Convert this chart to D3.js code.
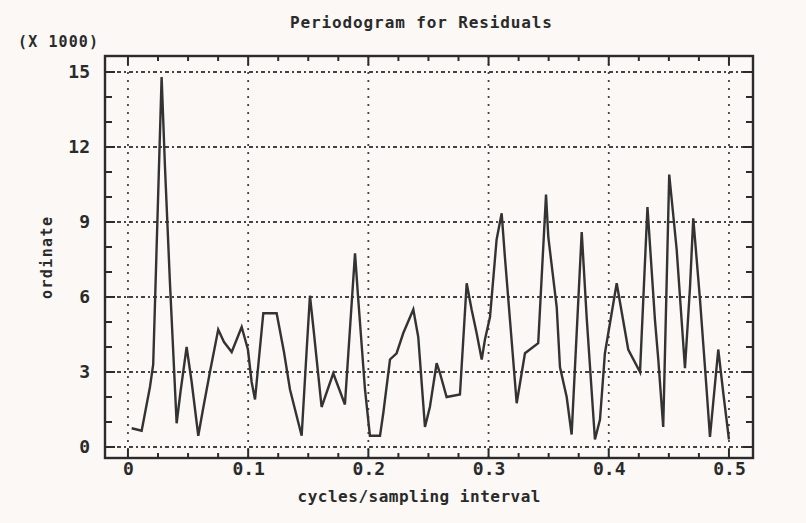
<!DOCTYPE html>
<html><head><meta charset="utf-8">
<script src="https://cdn.jsdelivr.net/npm/d3@7"></script>
<style>
html,body{margin:0;padding:0;background:#fbf8f5;}
svg{display:block;}
text{font-family:"DejaVu Sans Mono","Liberation Mono",monospace;fill:#2a2a2a;}
</style></head>
<body>
<svg id="c" width="806" height="523"></svg>
<script>
// ---- data ----
const frequency = [0.0031,0.0114,0.0183,0.0210,0.0280,0.0308,0.0349,0.0405,0.0437,0.0488,
  0.0530,0.0585,0.0624,0.0682,0.0751,0.0799,0.0863,0.0946,0.0998,0.1029,
  0.1057,0.1126,0.1237,0.1298,0.1348,0.1445,0.1487,0.1514,0.1542,0.1611,
  0.1708,0.1805,0.1889,0.1916,0.1958,0.1972,0.2013,0.2097,0.2124,0.2180,
  0.2235,0.2290,0.2374,0.2415,0.2471,0.2512,0.2568,0.2596,0.2651,0.2762,
  0.2818,0.2859,0.2901,0.2943,0.2970,0.3012,0.3067,0.3109,0.3136,0.3234,
  0.3303,0.3413,0.3478,0.3497,0.3567,0.3594,0.3650,0.3691,0.3775,0.3816,
  0.3885,0.3927,0.3968,0.4066,0.4162,0.4260,0.4322,0.4384,0.4412,0.4453,
  0.4503,0.4565,0.4634,0.4676,0.4703,0.4759,0.4814,0.4842,0.4911,0.4953,0.5000];
const ordinate = [0.75,0.65,2.4,3.3,14.8,11.2,6.6,0.95,2.2,4.0,
  2.6,0.45,1.5,3.0,4.7,4.2,3.8,4.8,3.9,2.6,
  1.9,5.35,5.35,3.8,2.3,0.45,3.9,6.05,4.8,1.6,
  2.95,1.7,7.75,5.9,3.2,2.3,0.45,0.45,1.35,3.5,
  3.75,4.55,5.5,4.4,0.8,1.6,3.35,2.95,2.0,2.1,
  6.55,5.5,4.55,3.5,4.3,5.2,8.3,9.35,7.6,1.75,
  3.75,4.15,10.1,8.4,5.6,3.2,2.0,0.5,8.6,5.2,
  0.3,1.1,3.75,6.55,3.9,3.0,9.6,5.1,3.5,0.8,
  10.9,7.9,3.15,6.4,9.15,5.9,2.3,0.4,3.9,2.15,0.3];
const xTicks = [0,0.1,0.2,0.3,0.4,0.5];
const xTickLabels = ["0","0.1","0.2","0.3","0.4","0.5"];
const yTicks = [0,3,6,9,12,15];
const yTickLabels = ["0","3","6","9","12","15"];
const title = "Periodogram for Residuals";
const scaleNote = "(X 1000)";
const xLabel = "cycles/sampling interval";
const yLabel = "ordinate";

// ---- drawing ----
const svg = d3.select("#c");
const L=105, R=753, T=56, B=458;
const x = d3.scaleLinear().domain([-0.0191,0.52]).range([L,R]);
const y = d3.scaleLinear().domain([-0.44,15.64]).range([B,T]);
const ink = "#2b2b2b";

// grid
const g = svg.append("g");
g.selectAll(".hg").data(yTicks).join("line")
  .attr("x1",L).attr("x2",R).attr("y1",d=>y(d)).attr("y2",d=>y(d))
  .attr("stroke","#444").attr("stroke-width",1.8).attr("stroke-dasharray","4,3,2,3");
g.selectAll(".vg").data(xTicks).join("line")
  .attr("y1",T).attr("y2",B).attr("x1",d=>x(d)).attr("x2",d=>x(d))
  .attr("stroke","#444").attr("stroke-width",1.8).attr("stroke-dasharray","2,6");

// inward minor/major ticks on frame
const yMinor = d3.range(0,16,1);
g.selectAll(".yl").data(yMinor).join("line")
  .attr("x1",L).attr("x2",d=>L+(d%3===0?10:7)).attr("y1",d=>y(d)).attr("y2",d=>y(d))
  .attr("stroke",ink).attr("stroke-width",2);
g.selectAll(".yr").data(yMinor).join("line")
  .attr("x1",R).attr("x2",d=>R-(d%3===0?10:7)).attr("y1",d=>y(d)).attr("y2",d=>y(d))
  .attr("stroke",ink).attr("stroke-width",2);
const xMinor = d3.range(0,0.5001,0.025);
g.selectAll(".xb").data(xMinor).join("line")
  .attr("y1",B).attr("y2",(d,i)=>B-(i%4===0?9:5)).attr("x1",d=>x(d)).attr("x2",d=>x(d))
  .attr("stroke",ink).attr("stroke-width",2);
g.selectAll(".xt").data(xMinor).join("line")
  .attr("y1",T).attr("y2",(d,i)=>T+(i%4===0?9:5)).attr("x1",d=>x(d)).attr("x2",d=>x(d))
  .attr("stroke",ink).attr("stroke-width",2);

// frame
svg.append("rect").attr("x",L).attr("y",T).attr("width",R-L).attr("height",B-T)
  .attr("fill","none").attr("stroke",ink).attr("stroke-width",2.4);

// series line
const pts = frequency.map((f,i)=>[f,ordinate[i]]);
svg.append("path").datum(pts)
  .attr("d",d3.line().x(d=>x(d[0])).y(d=>y(d[1])))
  .attr("fill","none").attr("stroke","#333").attr("stroke-width",2.4).attr("stroke-linejoin","miter");

// axes labels (real axes for positions)
const ya = svg.append("g").attr("transform",`translate(${L},0)`)
  .call(d3.axisLeft(y).tickValues(yTicks).tickFormat((d,i)=>yTickLabels[i]).tickSize(0).tickPadding(15));
ya.select(".domain").remove();
ya.selectAll("text").attr("font-size",18).attr("font-weight","bold")
  .attr("font-family","DejaVu Sans Mono, monospace").attr("fill","#2a2a2a");

const xa = svg.append("g").attr("transform",`translate(0,${B})`)
  .call(d3.axisBottom(x).tickValues(xTicks).tickFormat((d,i)=>xTickLabels[i]).tickSize(0).tickPadding(4));
xa.select(".domain").remove();
xa.selectAll("text").attr("font-size",18).attr("font-weight","bold")
  .attr("font-family","DejaVu Sans Mono, monospace").attr("fill","#2a2a2a");

svg.append("text").attr("x",421).attr("y",28).attr("text-anchor","middle").attr("font-weight","bold")
  .attr("font-size",16).attr("textLength",262).text(title);
svg.append("text").attr("x",18).attr("y",47).attr("font-weight","bold")
  .attr("font-size",15).attr("textLength",80).text(scaleNote);
svg.append("text").attr("transform","translate(52,258) rotate(-90)").attr("text-anchor","middle")
  .attr("font-weight","bold").attr("font-size",15).attr("textLength",82).text(yLabel);
svg.append("text").attr("x",419).attr("y",502).attr("text-anchor","middle").attr("font-weight","bold")
  .attr("font-size",16).attr("textLength",243).text(xLabel);
</script>
</body></html>
